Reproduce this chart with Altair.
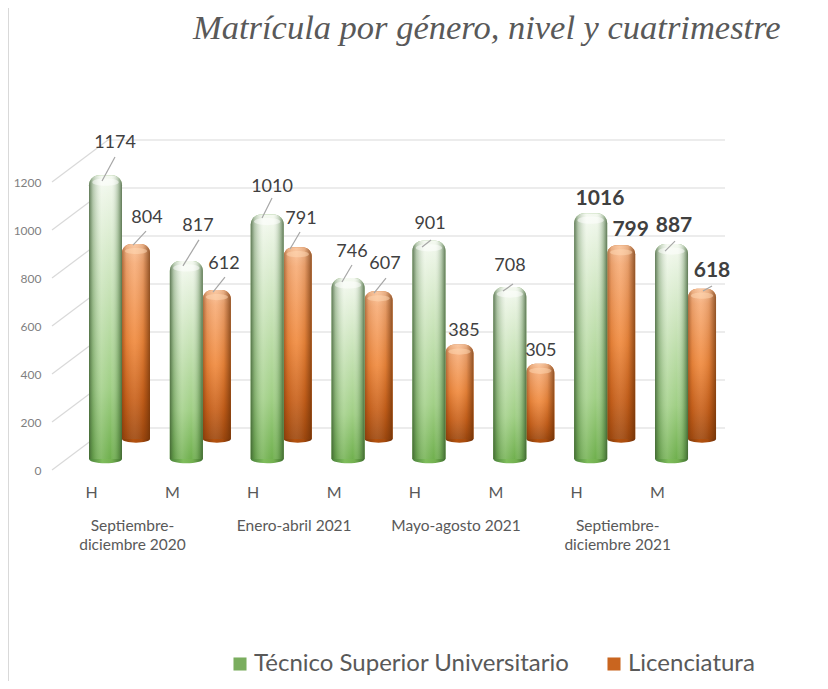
import json
import altair as alt
import pandas as pd

# ---- data ----
positions = ["1", "2", "3", "4", "5", "6", "7", "8"]
gender = ["H", "M", "H", "M", "H", "M", "H", "M"]
tsu = [1174, 817, 1010, 746, 901, 708, 1016, 887]
lic = [804, 612, 791, 607, 385, 305, 799, 618]
ticks = [0, 200, 400, 600, 800, 1000, 1200]
periods = ["Septiembre-\ndiciembre 2020", "Enero-abril 2021", "Mayo-agosto 2021", "Septiembre-\ndiciembre 2021"]
period_pos = ["1", "3", "5", "7"]
S_TSU = "Técnico Superior Universitario"
S_LIC = "Licenciatura"

# ---- layout ----
W, H = 812, 673
PX_PER_UNIT = 0.24
Y0 = 420.0            # plot-area y of value 0 on the back wall
STEP = 80.86
X0 = 57.07
FONT = "Lato"
GREY = "#595959"
GREEN_DX, GREEN_DY, GREEN_W = 0, 31, 33
ORANGE_DX, ORANGE_DY, ORANGE_W = 30.5, 11, 28

y_dom = [(Y0 - H) / PX_PER_UNIT, Y0 / PX_PER_UNIT]
px = lambda i: X0 + STEP * (i + 0.5)
py = lambda v: Y0 - PX_PER_UNIT * v

yscale = alt.Scale(domain=y_dom, range=[H, 0], nice=False, zero=False)
xscale = alt.Scale(type="band", domain=positions, range=[X0, X0 + STEP * 8], paddingInner=0, paddingOuter=0)
X = alt.X("pos:N", scale=xscale, sort=positions,
          axis=alt.Axis(title=None, orient="bottom", offset=-197,
                        labelExpr=f"{json.dumps(gender)}[toNumber(datum.value)-1]",
                        domain=False, ticks=False, labelAngle=0, labelFont=FONT, labelFontSize=16,
                        labelColor=GREY, labelOffset=-14, labelPadding=0))

def frame(series, values, dy):
    # the depth of the 3-D box is expressed in value units so the scale still draws every bar
    return pd.DataFrame({"pos": positions, "gender": gender, "value": values, "series": series,
                         "top": [v - (dy - 2) / PX_PER_UNIT for v in values],
                         "bot": [-dy / PX_PER_UNIT] * len(values)})

df_t = frame(S_TSU, tsu, GREEN_DY)
df_l = frame(S_LIC, lic, ORANGE_DY)
df_ticks = pd.DataFrame({"tick": ticks, "front": [t - 42 / PX_PER_UNIT for t in ticks]})

def grad_v(stops):
    return alt.Gradient(gradient="linear", x1=0, x2=0, y1=0, y2=1,
                        stops=[alt.GradientStop(offset=o, color=c) for o, c in stops])

def grad_h(stops):
    return alt.Gradient(gradient="linear", x1=0, x2=1, y1=0, y2=0,
                        stops=[alt.GradientStop(offset=o, color=c) for o, c in stops])

GREEN_V = grad_v([(0, "#f4f9f0"), (0.12, "#e6f2de"), (0.45, "#c2e0b0"), (0.75, "#a0cf85"), (1, "#70b04e")])
ORANGE_V = grad_v([(0, "#f9c39a"), (0.1, "#f7ad78"), (0.5, "#f08a3e"), (0.8, "#c9621c"), (1, "#a04a10")])
GREEN_H = grad_h([(0, "rgba(50,80,40,0.75)"), (0.12, "rgba(70,110,60,0.35)"), (0.38, "rgba(255,255,255,0.15)"),
                  (0.65, "rgba(255,255,255,0)"), (0.88, "rgba(70,110,60,0.35)"), (1, "rgba(50,80,40,0.75)")])
ORANGE_H = grad_h([(0, "rgba(110,50,10,0.55)"), (0.15, "rgba(140,60,10,0.15)"), (0.45, "rgba(255,255,255,0.08)"),
                   (0.75, "rgba(120,50,5,0.15)"), (1, "rgba(100,45,5,0.7)")])
GREEN_B = grad_h([(0, "#49803a"), (0.4, "#7fbd5c"), (0.7, "#73b050"), (1, "#3f7030")])
ORANGE_B = grad_h([(0, "#7f3a0a"), (0.4, "#b4520f"), (0.7, "#a84c0e"), (1, "#6d3008")])

BOTTOM = "M-1,0A1,0.26,0,0,0,1,0Z"
CAP = "M-0.8,0A0.8,0.22,0,1,1,0.8,0A0.8,0.22,0,1,1,-0.8,0Z"

Y_AXIS = alt.Y("value:Q", scale=yscale, stack=None, title=None,
               axis=alt.Axis(values=ticks, format="d", domain=False, ticks=False, grid=False, labelFont=FONT,
                             labelFontSize=12, labelColor="#7f7f7f", labelOffset=42, labelPadding=-33,
                             labelAlign="right"))
Y_TOP = alt.Y("top:Q", scale=yscale, stack=None, title=None, axis=None)
Y_BOT = alt.Y("bot:Q", scale=yscale, stack=None, title=None, axis=None)

def cylinder(df, width, dx, v_grad, h_grad, b_grad, radius, cap_color):
    bar = dict(width=width, xOffset=dx, cornerRadiusTopLeft=radius, cornerRadiusTopRight=radius)
    color = alt.Color("series:N", scale=alt.Scale(domain=[S_TSU, S_LIC], range=["#7aad5e", "#c9651f"]),
                      legend=alt.Legend(title=None, orient="none", legendX=220, legendY=644, direction="horizontal",
                                        symbolType="square", symbolSize=170, symbolStrokeWidth=0, labelFont=FONT,
                                        labelFontSize=24, labelColor=GREY, columnPadding=32, labelOffset=2,
                                        labelLimit=400, symbolOpacity=1))
    enc = dict(x=X, y=Y_TOP, y2="bot:Q")
    return [
        alt.Chart(df).mark_point(shape=BOTTOM, size=width ** 2, filled=True, opacity=1, fill=b_grad, xOffset=dx)
        .encode(x=X, y=Y_BOT),
        alt.Chart(df).mark_bar(**bar).encode(color=color, **enc),
        alt.Chart(df).mark_bar(fill=v_grad, **bar).encode(**enc),
        alt.Chart(df).mark_bar(fill=h_grad, **bar).encode(**enc),
        alt.Chart(df).mark_point(shape=CAP, size=width ** 2, filled=True, fill=cap_color, opacity=0.5,
                                 xOffset=dx, yOffset=7).encode(x=X, y=Y_TOP),
    ]

# back wall: grid lines and the diagonal side wall
grid = alt.Chart(df_ticks).mark_rule(color="#d9d9d9", strokeWidth=1.2).encode(
    y=alt.Y("tick:Q", scale=yscale, title=None, axis=None), x=alt.value(100), x2=alt.value(717))
side = alt.Chart(df_ticks).mark_rule(color="#d9d9d9", strokeWidth=1.2).encode(
    y=alt.Y("front:Q", scale=yscale, title=None, axis=None), y2="tick:Q", x=alt.value(44), x2=alt.value(100))
edge = alt.Chart(df_ticks.head(1)).mark_rule(color="#d9d9d9", strokeWidth=1).encode(
    x=alt.value(0.5), y=alt.value(0), y2=alt.value(H))

orange = cylinder(df_l, ORANGE_W, ORANGE_DX, ORANGE_V, ORANGE_H, ORANGE_B, 9, "#ffd9b5")
green = cylinder(df_t, GREEN_W, GREEN_DX, GREEN_V, GREEN_H, GREEN_B, 10, "#ffffff")

# invisible carrier of the value axis
yaxis = alt.Chart(df_t).mark_bar(opacity=0).encode(x=X, y=Y_AXIS)

# label nudges from the (category centre, back-wall value) point, and the leader line of each label
LABEL_NUDGE = {
    (0, 0): (9.5, -3), (0, 1): (41.5, -17), (1, 0): (11.6, -6), (1, 1): (37.6, -17),
    (2, 0): (4.8, 1.4), (2, 1): (33.8, -19), (3, 0): (3.9, 3), (3, 1): (36.9, -18),
    (4, 0): (1.1, 12), (4, 1): (35, -4.6), (5, 0): (0.2, 8), (5, 1): (31, -4),
    (6, 0): (9.3, 15), (6, 1): (40, -6), (7, 0): (2.5, 11), (7, 1): (40.5, -9),
}
LEADERS = {
    (0, 0): (9.5, 10.8, -3.5, 34.8), (0, 1): (40.5, -4, 27.5, 10), (1, 0): (12.6, 8, -3.4, 34),
    (1, 1): (38.6, -4.1, 26.6, 10.9), (2, 0): (4.8, 12.4, -5.2, 32.4), (2, 1): (32.8, -6.2, 22.8, 10.8),
    (3, 0): (3.9, 16, -6.1, 33), (3, 1): (37.9, -4.3, 25.9, 10.7), (4, 0): (2.1, 28.2, -6.9, 35.2),
    (5, 0): (3.2, 26, -6.8, 33), (7, 0): (3.5, 26, -6.5, 36), (7, 1): (40.5, 6.3, 31.5, 11.3),
}
label_layers, leader_layers = [], []
for (i, s), (ndx, ndy) in LABEL_NUDGE.items():
    val = lic[i] if s else tsu[i]
    bold = i >= 6
    df = pd.DataFrame({"pos": [positions[i]], "value": [val], "label": [str(val)]})
    label_layers.append(
        alt.Chart(df).mark_text(font=FONT, fontSize=21 if bold else 18, color="#404040",
                                fontWeight="bold" if bold else "normal", dx=ndx, dy=ndy, baseline="middle").encode(
            x=X, y=alt.Y("value:Q", scale=yscale, title=None, axis=None), text="label:N"))
    if (i, s) in LEADERS:
        a, b, c, d = LEADERS[(i, s)]
        leader_layers.append(
            alt.Chart(df).mark_rule(color="#a6a6a6", strokeWidth=1.2).encode(
                x=alt.value(px(i) + a), y=alt.value(py(val) + b), x2=alt.value(px(i) + c), y2=alt.value(py(val) + d)))

df_periods = pd.DataFrame({"pos": period_pos, "label": periods, "yy": [0, 0, 0, 0]})
period_text = alt.Chart(df_periods).mark_text(font=FONT, fontSize=15.5, color=GREY, lineBreak="\n", lineHeight=19,
                                              baseline="top", dx=27, dy=91).encode(
    x=X, y=alt.Y("yy:Q", scale=yscale, title=None, axis=None), text="label:N")

layers = [edge, grid, side, yaxis] + orange + green + leader_layers + label_layers + [period_text]

chart = alt.layer(*layers).resolve_axis(y="independent").properties(
    width=W, height=H, padding=0, background="white", autosize=alt.AutoSizeParams(type="none"),
    title=alt.Title("Matrícula por género, nivel y cuatrimestre", font="Liberation Serif", fontStyle="italic",
                    fontWeight="normal", fontSize=34.5, color="#595959", anchor="start", dx=185, offset=-39),
).configure_view(stroke="transparent")

chart.save("out.html", embed_options={"renderer": "svg", "actions": False})
